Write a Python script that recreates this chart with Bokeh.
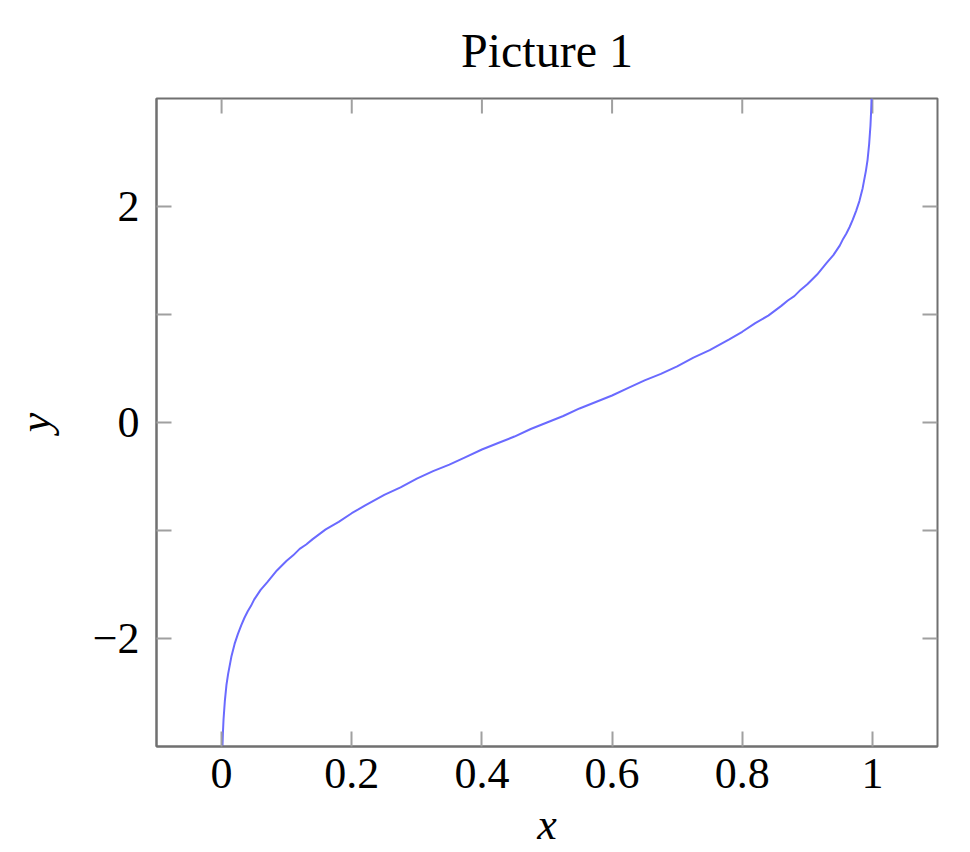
import math
from bokeh.plotting import figure
from bokeh.models import LinearAxis, FixedTicker, CustomJSTickFormatter, Range1d, Title
from bokeh.embed import file_html
from bokeh.resources import INLINE

# Curve values (x, y)
curve_x = [0.00135, 0.002, 0.003, 0.005, 0.0075, 0.01, 0.015, 0.02, 0.025, 0.03, 0.035,
           0.04, 0.045, 0.05, 0.06, 0.07, 0.085, 0.1, 0.11, 0.12, 0.13, 0.14, 0.16, 0.18,
           0.2, 0.22, 0.25, 0.275, 0.3, 0.325, 0.35, 0.375, 0.4, 0.425, 0.45, 0.475,
           0.5, 0.525, 0.55, 0.575, 0.6, 0.625, 0.65, 0.675, 0.7, 0.725, 0.75, 0.78,
           0.8, 0.82, 0.84, 0.86, 0.87, 0.88, 0.89, 0.9, 0.915, 0.93, 0.94, 0.95,
           0.955, 0.96, 0.965, 0.97, 0.975, 0.98, 0.985, 0.99, 0.9925, 0.995, 0.997,
           0.998, 0.99865]
curve_y = [-3.00, -2.88, -2.75, -2.58, -2.43, -2.33, -2.17, -2.05, -1.96, -1.88, -1.81,
           -1.75, -1.70, -1.64, -1.55, -1.48, -1.37, -1.28, -1.23, -1.17, -1.13, -1.08,
           -0.99, -0.92, -0.84, -0.77, -0.67, -0.60, -0.52, -0.45, -0.39, -0.32, -0.25,
           -0.19, -0.13, -0.06, 0.00, 0.06, 0.13, 0.19, 0.25, 0.32, 0.39, 0.45, 0.52,
           0.60, 0.67, 0.77, 0.84, 0.92, 0.99, 1.08, 1.13, 1.17, 1.23, 1.28, 1.37, 1.48,
           1.55, 1.64, 1.70, 1.75, 1.81, 1.88, 1.96, 2.05, 2.17, 2.33, 2.43, 2.58, 2.75,
           2.88, 3.00]

x_ticks = [0, 0.2, 0.4, 0.6, 0.8, 1]
y_ticks = [-2, 0, 2]
y_minor_ticks = [-1, 1]
x_min, x_max = -0.1, 1.1
y_min, y_max = -3, 3

FONT = "Liberation Serif"
FS = "44px"
AXIS_COLOR = "#707070"
TICK_COLOR = "#a0a0a0"
TICK_LEN = 15

p = figure(frame_width=781, frame_height=648,
           min_border_left=156, min_border_right=25, min_border_top=97, min_border_bottom=99,
           x_range=Range1d(x_min, x_max), y_range=Range1d(y_min, y_max),
           output_backend="svg", toolbar_location=None, tools="",
           x_axis_location=None, y_axis_location=None)
p.grid.visible = False
p.outline_line_color = AXIS_COLOR
p.outline_line_width = 2
p.background_fill_color = "white"
p.border_fill_color = "white"

fmt = CustomJSTickFormatter(code="""
    if (Math.abs(tick) < 1e-9) return '0';
    const s = parseFloat(Math.abs(tick).toFixed(2)).toString();
    return (tick < 0 ? '\\u2212' : '') + s;
""")

def style(ax, ticks, minor, label):
    ax.ticker = FixedTicker(ticks=ticks, minor_ticks=minor)
    ax.axis_line_color = AXIS_COLOR
    ax.axis_line_width = 2
    ax.major_tick_line_color = TICK_COLOR
    ax.major_tick_line_width = 2
    ax.minor_tick_line_color = TICK_COLOR
    ax.minor_tick_line_width = 2
    ax.major_tick_in = TICK_LEN
    ax.major_tick_out = 0
    ax.minor_tick_in = TICK_LEN
    ax.minor_tick_out = 0
    ax.formatter = fmt
    ax.major_label_text_font = FONT
    ax.major_label_text_font_size = FS
    ax.major_label_text_color = "black"
    ax.axis_label = label
    ax.axis_label_text_font = FONT
    ax.axis_label_text_font_size = FS
    ax.axis_label_text_font_style = "italic"
    ax.axis_label_text_color = "black"

xb = LinearAxis()
style(xb, x_ticks, [], "x")
xb.major_label_standoff = 12
xb.axis_label_standoff = 9
p.add_layout(xb, "below")

yl = LinearAxis()
style(yl, y_ticks, y_minor_ticks, "y")
yl.major_label_standoff = 17
yl.axis_label_standoff = 30
p.add_layout(yl, "left")

# mirrored inward ticks on the top and right edges
p.ray(x=x_ticks, y=[y_max] * len(x_ticks), length=TICK_LEN, length_units="screen",
      angle=-math.pi / 2, line_color=TICK_COLOR, line_width=2)
yr_all = y_ticks + y_minor_ticks
p.ray(x=[x_max] * len(yr_all), y=yr_all, length=TICK_LEN, length_units="screen",
      angle=math.pi, line_color=TICK_COLOR, line_width=2)

p.line(curve_x, curve_y, line_color="#6a6aff", line_width=2)

t = Title(text="Picture 1", align="center", text_font=FONT, text_font_size="48px",
          text_font_style="normal", text_color="black", standoff=43)
p.add_layout(t, "above")

open("out.html", "w").write(file_html(p, INLINE))
